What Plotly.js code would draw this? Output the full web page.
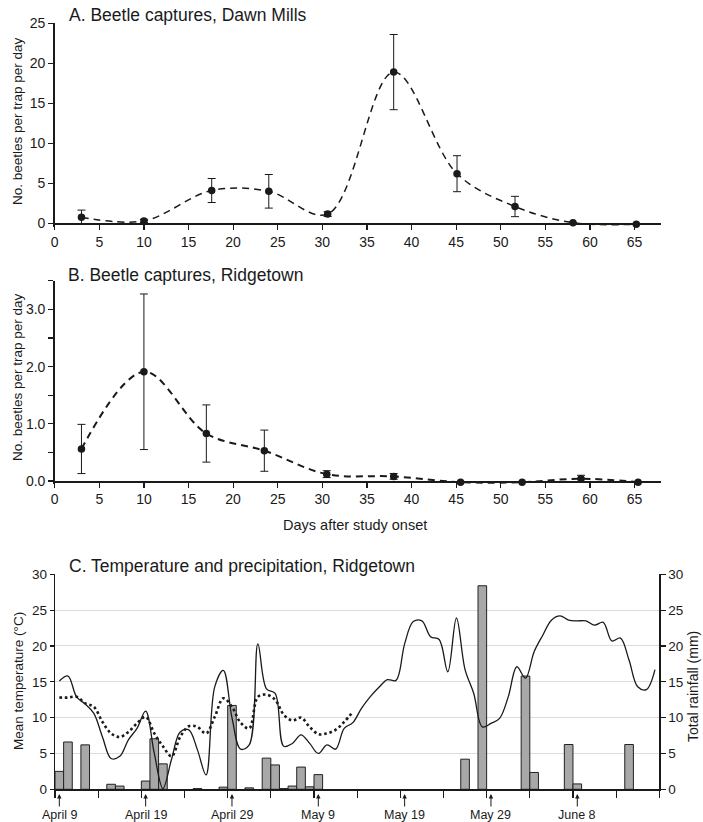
<!DOCTYPE html>
<html>
<head>
<meta charset="utf-8">
<script src="https://cdn.plot.ly/plotly-3.0.1.min.js"></script>
<style>html,body{margin:0;padding:0;background:#fff;}#chart{width:703px;height:822px;}</style>
</head>
<body>
<div id="chart"></div>
<script>
// ---------- Panel A: Dawn Mills ----------
const daysA = [3, 10, 17.6, 24, 30.6, 38, 45.1, 51.6, 58.1, 65.2];
const capturesA = [0.75, 0.3, 4.1, 4.0, 1.15, 18.9, 6.2, 2.1, 0.08, -0.12];
const errA = [0.9, 0.2, 1.5, 2.1, 0.3, 4.7, 2.25, 1.27, 0, 0];

// ---------- Panel B: Ridgetown ----------
const daysB = [3, 10, 17, 23.5, 30.5, 38, 45.5, 52.4, 59, 65.4];
const capturesB = [0.56, 1.91, 0.83, 0.53, 0.12, 0.08, -0.02, -0.02, 0.04, -0.02];
const errB = [0.43, 1.36, 0.5, 0.36, 0.06, 0.05, 0, 0, 0.06, 0];

// ---------- Panel C: temperature & rainfall (day 0 = April 9) ----------
const tempDaily = [15.1, 15.8, 12.9, 11.9, 10.6, 7.3, 4.3, 4.6, 6.9, 8.5,
  10.9, 5.0, 0.1, 4.2, 8.0, 8.3, 5.5, 2.0, 14.3, 16.6,
  10.0, 5.6, 6.2, 20.3, 14.0, 13.4, 6.0, 6.4, 7.6, 6.4,
  5.0, 6.2, 5.6, 8.5, 9.3, 11.3, 12.9, 14.2, 15.3, 15.2,
  20.3, 23.4, 23.5, 21.3, 20.9, 16.4, 23.9, 16.7, 13.4, 8.7,
  9.2, 9.9, 12.9, 17.1, 15.5, 19.2, 21.5, 23.6, 24.2, 23.6,
  23.5, 23.5, 22.9, 23.3, 20.7, 21.1, 18.0, 14.3, 13.9, 16.7];
const tempNormal = [12.8, 12.8, 12.9, 12.0, 11.5, 9.4, 7.8, 7.3, 8.0, 9.2,
  10.1, 7.8, 6.0, 4.6, 7.3, 8.8, 8.7, 7.8, 10.1, 12.7,
  11.5, 9.3, 8.5, 12.9, 13.2, 12.5, 10.4, 9.6, 10.0, 8.7,
  7.7, 7.8, 8.3, 9.4, 10.8];
const rainDay = [0, 1, 3, 6, 7, 10, 11, 12, 16, 19, 20, 22, 24, 25, 26, 27, 28, 29, 30, 47, 49, 54, 55, 59, 60, 66];
const rainMm = [2.5, 6.6, 6.2, 0.7, 0.45, 1.15, 7.05, 3.55, 0.1, 0.3, 11.7, 0.2, 4.35, 3.4, 0.1, 0.45, 3.1, 0.35, 2.05, 4.2, 28.4, 15.8, 2.35, 6.25, 0.75, 6.25];
const dateLabels = ['April 9', 'April 19', 'April 29', 'May 9', 'May 19', 'May 29', 'June 8'];
const dateLabelDay = [0, 10, 20, 30, 40, 50, 60];

const W = 703, H = 822;
const px = v => v / W;
const py = v => 1 - v / H;
const FONT = 'Liberation Sans, Arial, Helvetica, sans-serif';
const INK = '#1a1a1a';

const mid = arr => arr.map((_, i) => i + 0.5);

const traces = [
  {
    x: daysA, y: capturesA, xaxis: 'x', yaxis: 'y', type: 'scatter', mode: 'lines+markers',
    line: {color: INK, width: 1.5, dash: '7px,5px', shape: 'spline', smoothing: 1.0},
    marker: {color: INK, size: 7.5},
    error_y: {type: 'data', array: errA, visible: true, color: INK, thickness: 1, width: 4},
    cliponaxis: false, hoverinfo: 'x+y'
  },
  {
    x: daysB, y: capturesB, xaxis: 'x2', yaxis: 'y2', type: 'scatter', mode: 'lines+markers',
    line: {color: INK, width: 2, dash: '7px,5px', shape: 'spline', smoothing: 1.0},
    marker: {color: INK, size: 7.5},
    error_y: {type: 'data', array: errB, visible: true, color: INK, thickness: 1, width: 4},
    cliponaxis: false, hoverinfo: 'x+y'
  },
  {
    x: rainDay.map(d => d + 0.5), y: rainMm, xaxis: 'x3', yaxis: 'y3', type: 'bar',
    width: 1, marker: {color: '#a8a8a8', line: {color: '#222', width: 1}}, hoverinfo: 'y'
  },
  {
    x: mid(tempNormal), y: tempNormal, xaxis: 'x3', yaxis: 'y4', type: 'scatter', mode: 'lines',
    line: {color: INK, width: 2.6, dash: '2.6px,2.8px', shape: 'spline', smoothing: 1.0}, hoverinfo: 'y'
  },
  {
    x: mid(tempDaily), y: tempDaily, xaxis: 'x3', yaxis: 'y4', type: 'scatter', mode: 'lines',
    line: {color: INK, width: 1.3, shape: 'spline', smoothing: 1.0}, hoverinfo: 'y'
  }
];

const axBase = {
  showline: true, linecolor: INK, linewidth: 1.5, ticks: 'outside', tickcolor: INK,
  tickwidth: 1.2, ticklen: 5, showgrid: false, zeroline: false, fixedrange: true
};
const tickFontAB = {family: FONT, size: 14, color: INK};
const xTicks = [0, 5, 10, 15, 20, 25, 30, 35, 40, 45, 50, 55, 60, 65];

const ann = (text, x, y, size, angle) => ({
  text: text, xref: 'paper', yref: 'paper', x: px(x), y: py(y), xanchor: 'center', yanchor: 'middle',
  textangle: angle || 0, showarrow: false, font: {family: FONT, size: size, color: INK}
});
const titleAnn = (text, x, y) => ({
  text: text, xref: 'paper', yref: 'paper', x: px(x), y: py(y), xanchor: 'left', yanchor: 'middle',
  showarrow: false, font: {family: FONT, size: 17.5, color: INK}
});

const annotations = [
  titleAnn('A. Beetle captures, Dawn Mills', 67, 15),
  titleAnn('B. Beetle captures, Ridgetown', 65.5, 275),
  titleAnn('C. Temperature and precipitation, Ridgetown', 67, 566),
  ann('No. beetles per trap per day', 18, 121, 13.5, -90),
  ann('No. beetles per trap per day', 18, 377, 13.5, -90),
  ann('Days after study onset', 355, 525, 14.5, 0),
  ann('Mean temperature (°C)', 18, 681, 13.5, -90),
  ann('Total rainfall (mm)', 693, 687, 14, -90)
];
dateLabels.forEach((lab, i) => {
  annotations.push({
    text: lab, xref: 'x3', yref: 'paper', x: dateLabelDay[i] + 0.5, y: py(794),
    showarrow: true, ax: 0, ay: 21, arrowhead: 2, arrowsize: 0.9, arrowwidth: 1, arrowcolor: INK,
    font: {family: FONT, size: 12.5, color: INK}
  });
});

// panel A: 8 px per unit, 0 at y=223.3 ; panel B: 57.2 px per unit, 0 at y=481
const yA0 = 223.3, yAunit = 8, yAmin = -0.4;
const yB0 = 481, yBunit = 57.2, yBmin = -0.06;

const layout = {
  width: W, height: H, margin: {l: 0, r: 0, t: 0, b: 0},
  paper_bgcolor: '#fff', plot_bgcolor: 'rgba(0,0,0,0)', showlegend: false,
  font: {family: FONT, color: INK},
  bargap: 0,
  xaxis: Object.assign({}, axBase, {domain: [px(54.7), px(661.3)], anchor: 'free', position: py(yA0), range: [0, 68], tickvals: xTicks, tickfont: tickFontAB}),
  yaxis: Object.assign({}, axBase, {domain: [py(yA0 - yAmin * yAunit), py(yA0 - 25 * yAunit)], anchor: 'x', range: [yAmin, 25], tickvals: [0, 5, 10, 15, 20, 25], tickfont: tickFontAB}),
  xaxis2: Object.assign({}, axBase, {domain: [px(54.7), px(661.3)], anchor: 'free', position: py(yB0), range: [0, 68], tickvals: xTicks, tickfont: tickFontAB}),
  yaxis2: Object.assign({}, axBase, {domain: [py(yB0 - yBmin * yBunit), py(yB0 - 3.5 * yBunit)], anchor: 'x2', range: [yBmin, 3.5],
    tickvals: [0, 0.5, 1, 1.5, 2, 2.5, 3, 3.5], ticktext: ['0.0', '', '1.0', '', '2.0', '', '3.0', ''], tickfont: tickFontAB}),
  xaxis3: Object.assign({}, axBase, {domain: [px(55), px(659.3)], anchor: 'y3', range: [0, 70],
    tickvals: [0, 5, 10, 15, 20, 25, 30, 35, 40, 45, 50, 55, 60, 65, 70], showticklabels: false, ticklen: 7}),
  yaxis3: Object.assign({}, axBase, {domain: [py(789.3), py(574.3)], anchor: 'x3', side: 'right', range: [0, 30],
    tickvals: [0, 5, 10, 15, 20, 25, 30], showgrid: true, gridcolor: '#dcdcdc', gridwidth: 1,
    linewidth: 1.2, tickfont: {family: FONT, size: 13.5, color: INK}}),
  yaxis4: Object.assign({}, axBase, {overlaying: 'y3', anchor: 'x3', side: 'left', range: [0, 30],
    tickvals: [0, 5, 10, 15, 20, 25, 30], linewidth: 1.2, ticklen: 4, tickfont: {family: FONT, size: 13.5, color: INK}}),
  annotations: annotations
};

Plotly.newPlot('chart', traces, layout, {staticPlot: true, displayModeBar: false});
</script>
</body>
</html>
